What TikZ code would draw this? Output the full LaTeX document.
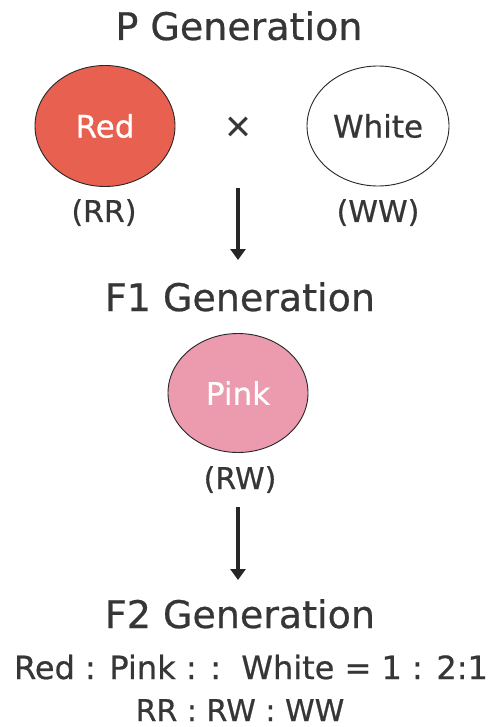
\documentclass[tikz,border=0pt]{standalone}
\usepackage{fontspec}
\setmainfont[FakeBold=0.6]{DejaVu Sans}
\usetikzlibrary{arrows.meta,shapes.geometric}
\definecolor{txt}{HTML}{363636}
\definecolor{redfill}{HTML}{E8604F}
\definecolor{pinkfill}{HTML}{EC9AAD}
\begin{document}
\begin{tikzpicture}[x=1pt,y=-1pt,
  title/.style={text=txt,font=\fontsize{38}{44}\selectfont,inner sep=0pt,anchor=base},
  label/.style={text=txt,font=\fontsize{30}{34}\selectfont,inner sep=0pt,anchor=base},
  blob/.style={ellipse,draw=black!85,line width=0.9pt,inner sep=0pt,font=\fontsize{31}{34}\selectfont},
  flow/.style={line width=3.6pt,draw=black!85,-{Triangle[length=11pt,width=15pt]}}]
\useasboundingbox[fill=white] (0,0) rectangle (495,727);
\node[title] (pgen) at (239,40) {P Generation};
\node[blob,fill=redfill,text=white,minimum width=140pt,minimum height=121pt] (red) at (105,126) {Red};
\node[text=txt,font=\fontsize{34}{34}\selectfont,inner sep=0pt] (cross) at (238,127) {×};
\node[blob,fill=white,text=txt,minimum width=142pt,minimum height=120pt] (white) at (378,126) {White};
\node[label] (rr) at (104,222) {(RR)};
\node[label] (ww) at (378,222) {(WW)};
\coordinate (a1s) at (238,188);
\coordinate (a1e) at (238,260);
\draw[flow] (a1s) -- (a1e);
\node[title] (f1gen) at (240,311) {F1 Generation};
\node[blob,fill=pinkfill,text=white,minimum width=140pt,minimum height=119pt] (pink) at (238,393) {Pink};
\node[label] (rw) at (240,489) {(RW)};
\coordinate (a2s) at (238,507);
\coordinate (a2e) at (238,580);
\draw[flow] (a2s) -- (a2e);
\node[title] (f2gen) at (240,628) {F2 Generation};
\node[label,font=\fontsize{32}{34}\selectfont] (ratio) at (251,679) {Red : Pink : :\ \ White = 1 : 2:1};
\node[label] (geno) at (240,721) {RR : RW : WW};
\end{tikzpicture}
\end{document}
